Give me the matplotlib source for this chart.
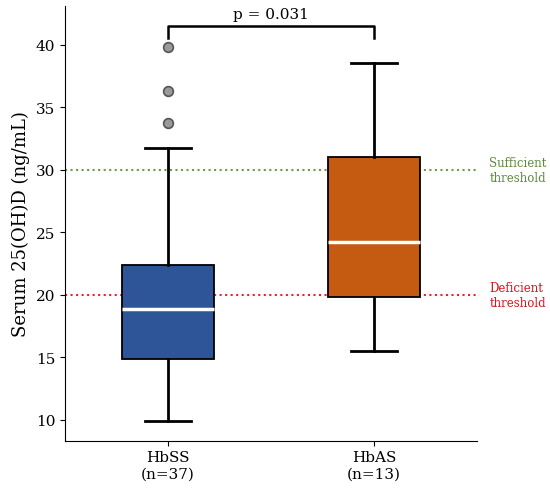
import matplotlib
matplotlib.use("Agg")
import matplotlib.pyplot as plt

plt.rcParams['font.family'] = ['DejaVu Serif']

groups = ["HbSS\n(n=37)", "HbAS\n(n=13)"]
whislo = [9.9, 15.5]
q1 = [14.9, 19.8]
med = [18.9, 24.2]
q3 = [22.4, 31.0]
whishi = [31.7, 38.5]
outliers_ss = [33.7, 36.3, 39.8]
outliers_as = []
colors = ["#2e5597", "#c55a11"]
p_text = "p = 0.031"
sufficient = 30
deficient = 20

stats = []
for i, lab in enumerate(groups):
    stats.append(dict(label=lab, whislo=whislo[i], q1=q1[i], med=med[i],
                      q3=q3[i], whishi=whishi[i],
                      fliers=[outliers_ss, outliers_as][i]))

fig = plt.figure(figsize=(5.5, 4.89), dpi=100)
ax = fig.add_axes([0.118, 0.097, 0.749, 0.889])

bp = ax.bxp(stats, positions=[0, 1], widths=0.45, patch_artist=True,
            boxprops=dict(edgecolor="black", linewidth=1.3),
            medianprops=dict(color="white", linewidth=2.5),
            whiskerprops=dict(color="black", linewidth=2),
            capprops=dict(color="black", linewidth=2),
            flierprops=dict(marker="o", markerfacecolor="#9a9a9a",
                            markeredgecolor="#555555", markersize=7,
                            markeredgewidth=1.2))
for patch, c in zip(bp["boxes"], colors):
    patch.set_facecolor(c)

ax.axhline(sufficient, color="#6f9a48", linestyle=":", linewidth=1.5, zorder=0.5)
ax.axhline(deficient, color="#e0262b", linestyle=":", linewidth=1.5, zorder=0.5)

ax.text(1.03, sufficient, "Sufficient\nthreshold", transform=ax.get_yaxis_transform(),
        color="#5d8c3c", fontsize=8.5, va="center", ha="left")
ax.text(1.03, deficient, "Deficient\nthreshold", transform=ax.get_yaxis_transform(),
        color="#d8141c", fontsize=8.5, va="center", ha="left")

# significance bracket
y_br = 41.5
ax.plot([0, 0, 1, 1], [40.5, y_br, y_br, 40.5], color="black", linewidth=1.8,
        clip_on=False)
ax.text(0.5, y_br + 0.35, p_text, ha="center", va="bottom", fontsize=11)

ax.set_xlim(-0.5, 1.5)
ax.set_ylim(8.35, 43.1)
ax.set_yticks([10, 15, 20, 25, 30, 35, 40])
ax.tick_params(axis="both", labelsize=11)
ax.set_ylabel("Serum 25(OH)D (ng/mL)", fontsize=13)
ax.spines["top"].set_visible(False)
ax.spines["right"].set_visible(False)

fig.savefig("out.png", dpi=100)
